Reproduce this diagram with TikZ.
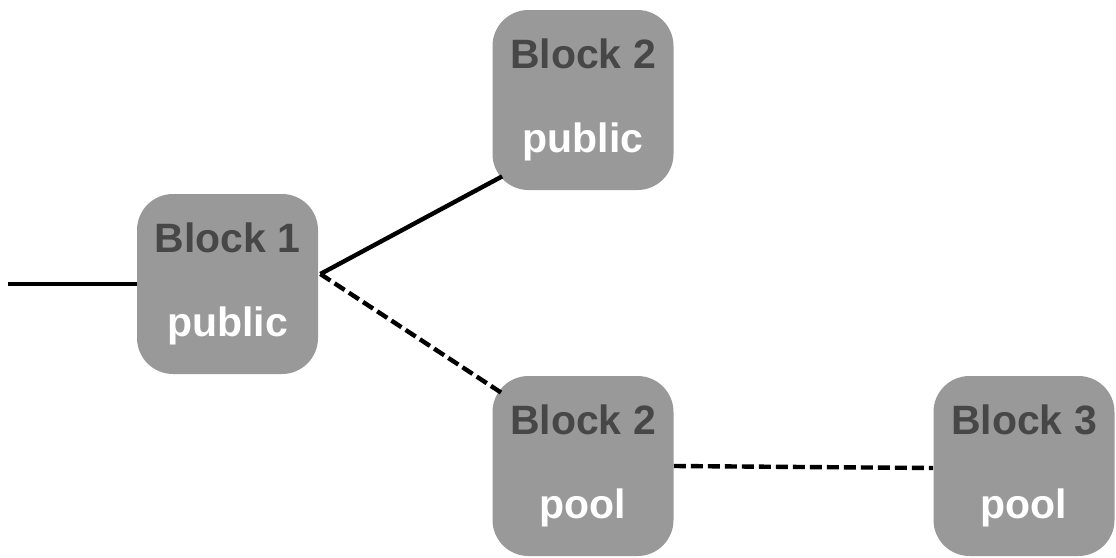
\documentclass[tikz,border=0pt]{standalone}
\usepackage{fontspec}
\setmainfont{Liberation Sans}
\usepackage{tikz}
\usetikzlibrary{calc}
\definecolor{blockfill}{HTML}{999999}
\definecolor{blocktext}{HTML}{474747}

\begin{document}
\begin{tikzpicture}[x=0.5pt,y=-0.5pt,
   block/.style={rectangle,rounded corners=18pt,fill=blockfill,minimum width=90.5pt,minimum height=90pt,inner sep=0pt,align=center,font=\bfseries\fontsize{20.5}{42}\selectfont},
   link/.style={line width=2.2pt,black},
   poollink/.style={link,dash pattern=on 6pt off 2.5pt}]
         \useasboundingbox (0,0) rectangle (1116,558);
         \coordinate (in) at (8,284);
         \node[block] (b1) at (227.5,284) {\textcolor{blocktext}{Block 1}\\\textcolor{white}{public}};
         \node[block] (b2) at (583,100) {\textcolor{blocktext}{Block 2}\\\textcolor{white}{public}};
         \node[block] (b2p) at (583,466) {\textcolor{blocktext}{Block 2}\\\textcolor{white}{pool}};
         \node[block] (b3) at (1024,466) {\textcolor{blocktext}{Block 3}\\\textcolor{white}{pool}};

         \draw[link] (in) -- (b1.west);
         \draw[link] ($(b1.east)+(2,-10)$) -- ($(b2.south west)+(10,-14)$);
         \draw[poollink] ($(b1.east)+(2,-10)$) -- ($(b2p.north west)+(9,17)$);
         \draw[poollink] (b2p.east) -- ($(b3.west)+(0,2)$);
      \end{tikzpicture}
\end{document}
